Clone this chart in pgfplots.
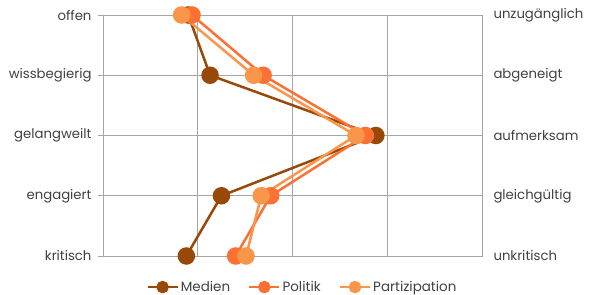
\documentclass[border=0pt]{standalone}
\usepackage{fontspec}
\setmainfont{Poppins}
\usepackage{pgfplots}
\pgfplotsset{compat=1.18}
\definecolor{cMed}{HTML}{984807}
\definecolor{cPol}{HTML}{FD7033}
\definecolor{cPar}{HTML}{F9964A}
\definecolor{cGrid}{HTML}{A6A6A6}
\definecolor{cTxt}{HTML}{404040}
\begin{document}
\begin{tikzpicture}
\path[use as bounding box] (-103bp,-39bp) rectangle (487bp,256bp);
\begin{axis}[
  at={(0,0)}, anchor=south west,
  scale only axis, width=379bp, height=241bp,
  xmin=1, xmax=5, ymin=1, ymax=5,
  xtick={2,3,4}, xticklabels={}, xmajorgrids,
  x tick style={draw=none},
  ytick={1,2,3,4,5},
  yticklabels={kritisch,engagiert,gelangweilt,wissbegierig,offen},
  ymajorgrids,
  ytick pos=left, tick align=outside, major tick length=5bp,
  y tick style={cGrid, line width=0.75bp},
  axis line style={cGrid, line width=0.75bp},
  grid style={cGrid, line width=0.75bp},
  yticklabel style={font=\fontsize{13.3}{15}\selectfont, text=cTxt, xshift=-3bp},
  legend style={at={(axis description cs:0.526,-0.129)}, anchor=center, draw=none,
    font=\fontsize{13.5}{15}\selectfont, text=cTxt,
    /tikz/every even column/.append style={column sep=16bp}},
  legend columns=3,
  legend image code/.code={\draw[mark size=5bp, mark repeat=2, mark phase=2] plot coordinates {(0bp,0bp) (15bp,0bp) (30bp,0bp)};},
  every axis plot/.append style={line width=2.5bp, mark=*, mark size=7.5bp},
]
\addplot[cMed, mark options={fill=cMed}] coordinates {(1.90,5) (2.13,4) (3.88,3) (2.25,2) (1.88,1)};
\addplot[cPol, mark options={fill=cPol}] coordinates {(1.94,5) (2.69,4) (3.77,3) (2.77,2) (2.40,1)};
\addplot[cPar, mark options={fill=cPar}] coordinates {(1.83,5) (2.59,4) (3.67,3) (2.67,2) (2.51,1)};
\legend{Medien,Politik,Partizipation}
\end{axis}
\begin{axis}[
  at={(0,0)}, anchor=south west,
  scale only axis, width=379bp, height=241bp,
  xmin=1, xmax=5, ymin=1, ymax=5,
  xtick=\empty,
  ytick={1,2,3,4,5},
  yticklabels={unkritisch,gleichgültig,aufmerksam,abgeneigt,unzugänglich},
  yticklabel pos=right, tick align=inside,
  tick style={draw=none}, axis line style={draw=none},
  yticklabel style={font=\fontsize{13.3}{15}\selectfont, text=cTxt, xshift=8bp},
]
\end{axis}
\end{tikzpicture}
\end{document}
